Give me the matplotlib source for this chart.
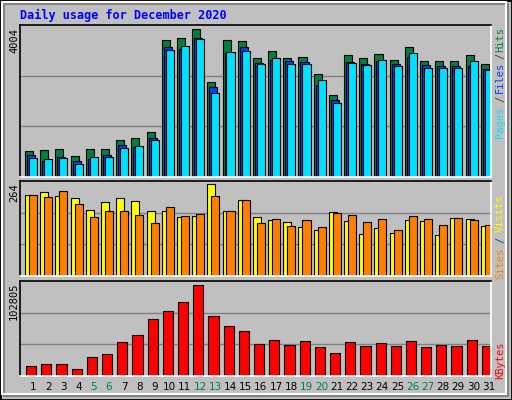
import matplotlib
matplotlib.use("Agg")
import matplotlib.pyplot as plt
from matplotlib.patches import Rectangle

days = list(range(1, 32))
weekend = [5, 6, 12, 13, 19, 20, 26, 27]

hits = [696, 723, 750, 560, 750, 750, 994, 1049, 1211, 3706, 3761, 4004, 2567, 3706, 3679, 3218,
        3408, 3218, 3245, 2784, 2215, 3300, 3218, 3327, 3164, 3517, 3137, 3137, 3137, 3300, 3056]
files = [588, 425, 533, 425, 479, 588, 859, 805, 1049, 3517, 3462, 3761, 2432, 3354, 3517, 3083,
         3164, 3137, 3110, 2486, 2079, 3110, 3056, 3137, 3056, 3245, 3028, 3001, 3001, 3001, 2920]
pages = [506, 479, 506, 344, 533, 533, 777, 832, 994, 3435, 3544, 3734, 2269, 3381, 3408, 3056,
         3218, 3056, 3056, 2622, 1998, 3083, 3028, 3164, 3001, 3354, 2947, 2947, 2947, 3137, 2893]
sites = [232, 241, 230, 224, 189, 212, 224, 215, 187, 187, 169, 172, 264, 187, 218, 169,
         161, 155, 141, 132, 184, 158, 121, 138, 123, 161, 158, 118, 166, 164, 143]
visits = [232, 227, 244, 207, 169, 187, 187, 175, 152, 198, 172, 178, 230, 187, 218, 152,
          164, 143, 161, 141, 181, 175, 155, 164, 132, 172, 164, 146, 166, 161, 146]
kbytes = [11298, 13558, 13558, 7909, 21466, 24856, 38413, 46322, 64399, 73437, 83605, 102805,
          67788, 56490, 50841, 36154, 40673, 35024, 39543, 32764, 25985, 38413, 33894, 37283,
          33894, 39543, 32764, 35024, 33894, 40673, 33894]

W, H = 512, 400
BG = "#C0C0C0"
MONO = "DejaVu Sans Mono"

fig = plt.figure(figsize=(W / 100, H / 100), dpi=100)
fig.patch.set_facecolor(BG)


def px_box(x0, y0, x1, y1):
    return [x0 / W, 1 - y1 / H, (x1 - x0) / W, (y1 - y0) / H]


# bevelled frame
fig.add_artist(Rectangle((0, 0), 1, 1, transform=fig.transFigure, fill=False, ec="black", lw=2))
fig.add_artist(Rectangle((4 / W, 4 / H), (W - 8) / W, (H - 8) / H, transform=fig.transFigure,
                         fill=False, ec="#808080", lw=1.5))
fig.add_artist(Rectangle((2 / W, 6 / H), (W - 8) / W, (H - 8) / H, transform=fig.transFigure,
                         fill=False, ec="white", lw=1.5))


def make_ax(y0, y1, ymax):
    ax = fig.add_axes(px_box(20, y0, 491, y1))
    ax.set_facecolor(BG)
    ax.set_xlim(0, 31)
    ax.set_ylim(0, ymax)
    for s in ["left", "top"]:
        ax.spines[s].set_color("black")
    for s in ["right", "bottom"]:
        ax.spines[s].set_color("white")
    for s in ax.spines.values():
        s.set_linewidth(1.2)
    ax.set_xticks([])
    ax.set_yticks([])
    for f in (1 / 3, 2 / 3):
        ax.axhline(ymax * f, color="#808080", lw=1, zorder=0)
    return ax


kw = dict(edgecolor="black", linewidth=0.8, align="edge", zorder=2)
left = [d - 1 for d in days]

ax1 = make_ax(25, 177, 4121)
ax1.bar([l + 0.33 for l in left], hits, width=0.53, color="#008040", **kw)
ax1.bar([l + 0.46 for l in left], files, width=0.53, color="#0040FF", **kw)
ax1.bar([l + 0.59 for l in left], pages, width=0.53, color="#00E0FF", **kw)

ax2 = make_ax(181, 276, 273.5)
ax2.bar([l + 0.33 for l in left], sites, width=0.53, color="#FFFF00", **kw)
ax2.bar([l + 0.59 for l in left], visits, width=0.53, color="#FF8000", **kw)

ax3 = make_ax(281, 376, 107324)
ax3.bar([l + 0.4 for l in left], kbytes, width=0.67, color="#FF0000", **kw)
ax3.set_xticks([l + 0.85 for l in left])
ax3.set_xticklabels([str(d) for d in days], fontsize=7.5)
ax3.tick_params(axis="x", length=0, pad=4)
for lab, d in zip(ax3.get_xticklabels(), days):
    lab.set_color("#008040" if d in weekend else "black")

fig.text(20 / W, 1 - 15 / H, "Daily usage for December 2020", color="#0000FF",
         fontsize=8.5, fontweight="bold", family=MONO, va="center")


def side(x, y, s, color, va="center", ha="center", size=7.5):
    fig.text(x / W, 1 - y / H, s, color=color, rotation=90, family=MONO, fontsize=size,
             va=va, ha=ha)


side(14, 28, "4004", "black", va="top")
side(14, 183, "264", "black", va="top")
side(14, 283, "102805", "black", va="top")

side(500, 40, "Hits", "#008040")
side(500, 56, "/", "#404040")
side(500, 77, "Files", "#0040FF")
side(500, 99, "/", "#404040")
side(500, 122, "Pages", "#00E0FF")
side(500, 213, "Visits", "#FFFF00")
side(500, 240, "/", "#404040")
side(500, 263, "Sites", "#FF8000")
side(500, 360, "KBytes", "#FF0000")

fig.savefig("out.png", dpi=100, facecolor=BG)
